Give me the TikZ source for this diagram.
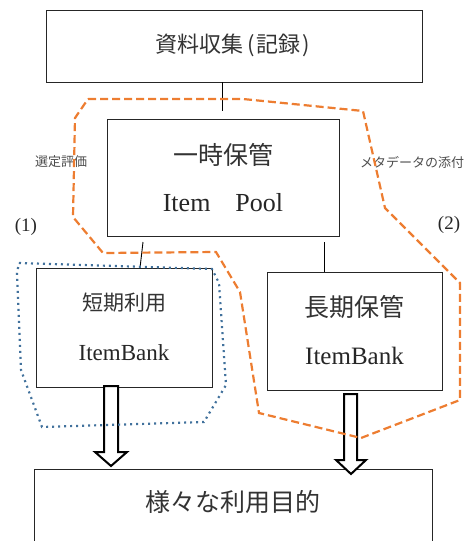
\documentclass[tikz,border=0pt]{standalone}
\usepackage{fontspec}
\newfontfamily\jp{Noto Sans CJK JP}
\newfontfamily\lat{Liberation Serif}
\definecolor{orng}{HTML}{ED7D31}
\definecolor{blu}{HTML}{41719C}
\begin{document}
\begin{tikzpicture}[x=1pt,y=-1pt,
  box/.style={draw=black!85,line width=1pt,inner sep=0pt,outer sep=0pt,fill=white},
  conn/.style={draw=black,line width=0.9pt},
  blockarrow/.style={draw=black,line width=2pt,fill=white,line join=miter},
  orangeline/.style={draw=orng,line width=2.2pt,dash pattern=on 8pt off 4pt},
  blueline/.style={draw=blu,line width=2.2pt,dash pattern=on 2pt off 4pt},
  jtxt/.style={inner sep=0pt,font=\jp,text=black!80},
  ltxt/.style={inner sep=0pt,font=\lat,text=black!85},
  small/.style={inner sep=0pt,font=\jp\fontsize{13}{13}\selectfont,text=black!70}]
\clip (0,0) rectangle (468,541);
\useasboundingbox (0,0) rectangle (468,541);
% boxes
\node[box,minimum width=376pt,minimum height=72pt] (top) at (234,46) {};
\node[box,minimum width=232pt,minimum height=117pt] (pool) at (223,177.5) {};
\node[box,minimum width=176pt,minimum height=119pt] (short) at (124,327.5) {};
\node[box,minimum width=175pt,minimum height=118pt] (long) at (354.5,331) {};
\node[box,minimum width=398pt,minimum height=91pt] (bottom) at (233,514.5) {};
% texts
\node[jtxt,font=\jp\fontsize{22}{22}\selectfont] (ttop) at (233,45) {資料収集\hspace{4pt}(\hspace{2pt}記録\hspace{2pt})\hspace{2pt}};
\node[jtxt,font=\jp\fontsize{25}{25}\selectfont] (tpool) at (223,155) {一時保管};
\node[ltxt,font=\lat\fontsize{26}{26}\selectfont] (tpool2) at (223,203) {Item\hspace{25pt}Pool};
\node[jtxt,font=\jp\fontsize{21}{21}\selectfont] (tshort) at (124,303) {短期利用};
\node[ltxt,font=\lat\fontsize{23}{23}\selectfont] (tshort2) at (124,353) {ItemBank};
\node[jtxt,font=\jp\fontsize{25}{25}\selectfont] (tlong) at (354.5,307) {長期保管};
\node[ltxt,font=\lat\fontsize{25}{25}\selectfont] (tlong2) at (354.5,356) {ItemBank};
\node[jtxt,font=\jp\fontsize{25}{25}\selectfont] (tbottom) at (233,502) {様々な利用目的};
\node[small] (sel) at (61,162) {選定評価};
\node[small] (meta) at (412,162) {メタデータの添付};
\node[ltxt,font=\lat\fontsize{19}{19}\selectfont] (n1) at (26,227) {(1)};
\node[ltxt,font=\lat\fontsize{19}{19}\selectfont] (n2) at (449,225) {(2)};
% connectors
\coordinate (c1a) at (top.south -| 222,0);
\coordinate (c1b) at (222,111);
\draw[conn] (c1a) -- (c1b);
\coordinate (c2a) at (143,242);
\coordinate (c2b) at (short.north -| 140,0);
\draw[conn] (c2a) -- (c2b);
\coordinate (c3a) at (324,242);
\coordinate (c3b) at (long.north -| 324,0);
\draw[conn] (c3a) -- (c3b);
% block arrows
\draw[blockarrow] (104,386) -- (118,386) -- (118,452) -- (127,452) -- (111,466) -- (95,452) -- (104,452) -- cycle;
\draw[blockarrow] (344,394) -- (357,394) -- (357,460) -- (366,460) -- (351,474) -- (336,460) -- (344,460) -- cycle;
% groups
\draw[orangeline] (88,99) -- (243,99) -- (363,111) -- (385,208) -- (460,283) -- (460,400) -- (361,438) -- (259,413) -- (240,292) -- (216,252) -- (103,253) -- (73,217) -- (75,118) -- cycle;
\draw[blueline] (19,263) -- (212,269) -- (219,283) -- (226,385) -- (204,422) -- (42,427) -- (21,370) -- (17,273) -- cycle;
\end{tikzpicture}
\end{document}
